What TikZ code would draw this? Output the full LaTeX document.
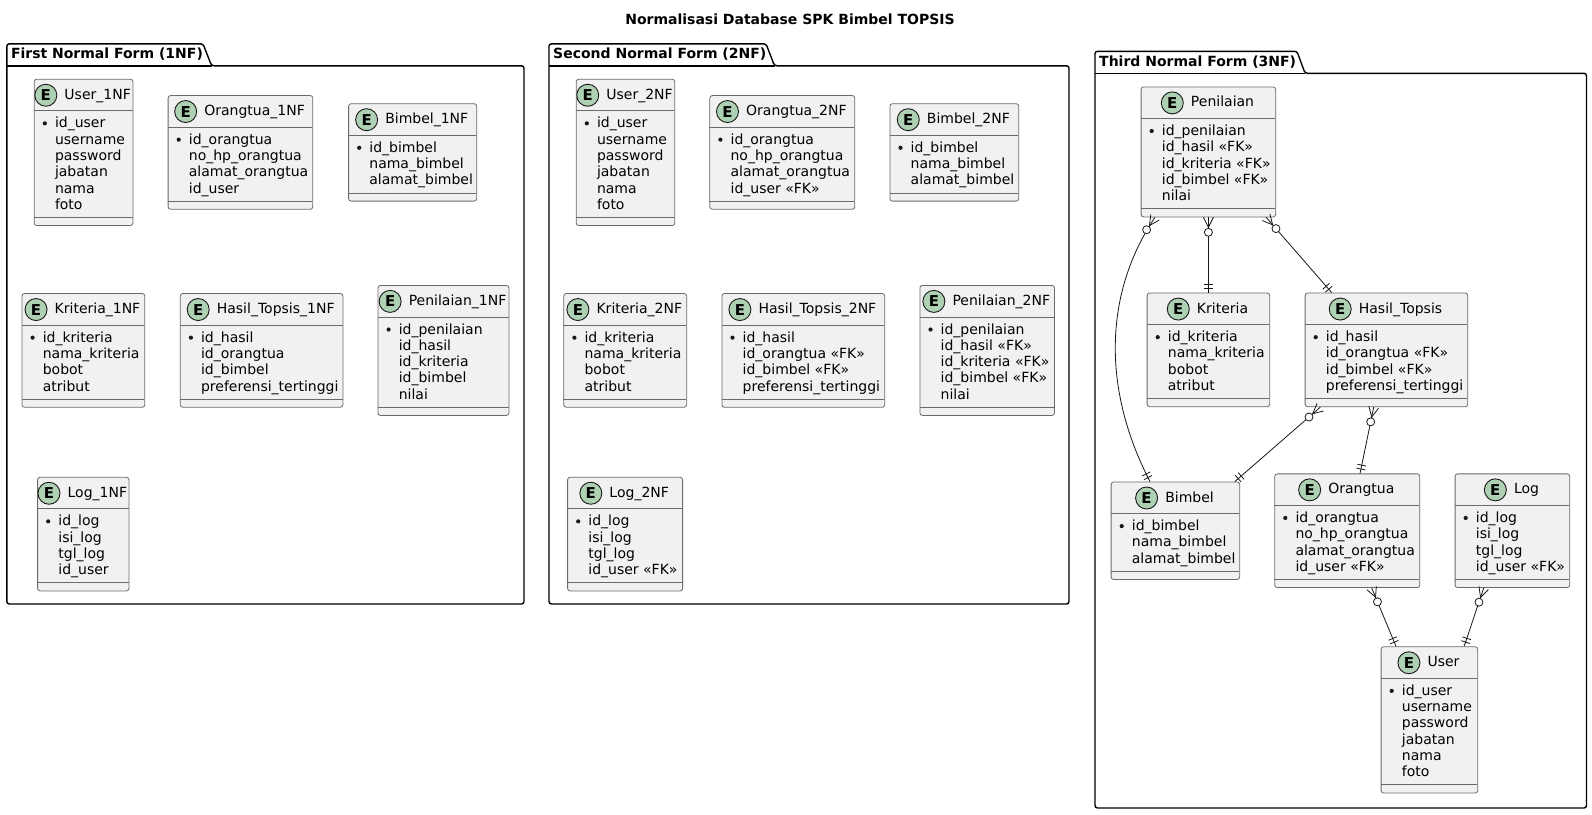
\documentclass[tikz,border=0pt]{standalone}
\usepackage{fontspec}
\setmainfont{DejaVu Sans}
\usetikzlibrary{calc}
\definecolor{entfill}{HTML}{F1F1F1}
\definecolor{entline}{HTML}{6A6A6A}
\definecolor{circfill}{HTML}{ADD1B2}
\definecolor{ink}{HTML}{181818}
\tikzset{
  entbox/.style={draw=entline, line width=0.8pt, fill=entfill, rounded corners=2.5pt, inner sep=0pt, anchor=north west},
  eline/.style={draw=entline, line width=0.8pt},
  etitle/.style={inner sep=0pt, text height=11pt, text depth=3pt, font=\fontsize{14}{16.3}\selectfont, anchor=base},
  ecirc/.style={circle, draw=ink, line width=0.9pt, fill=circfill, minimum size=22pt, inner sep=0pt, font=\fontsize{15}{16}\selectfont\bfseries},
  eattr/.style={inner sep=0pt, anchor=base west, font=\fontsize{14}{16.3}\selectfont},
  conn/.style={draw=ink, line width=0.8pt},
  pkg/.style={draw=black, line width=1.4pt, rounded corners=2.5pt},
  pkgtitle/.style={inner sep=0pt, anchor=base west, font=\fontsize{14}{16}\selectfont\bfseries},
}
% #1 id, #2 left x, #3 center y, #4 width, #5 number of attributes, #6 title, #7 attributes
\newcommand{\erent}[7]{%
  \pgfmathsetmacro{\eH}{48.5+16.3*#5}%
  \pgfmathsetmacro{\eT}{#3-\eH/2}%
  \pgfmathsetmacro{\eD}{\eT+32+16.3*#5+8.7}%
  \node[entbox, minimum width=#4pt, minimum height=\eH pt] (#1) at (#2,\eT) {};
  \draw[eline] (#2,\eT+32) -- ++(#4,0);
  \draw[eline] (#2,\eD) -- ++(#4,0);
  \node[etitle, label={[ecirc, label distance=7pt]left:E}] (#1t) at ({#2+#4/2+14.5},{\eT+20.4}) {#6};
  \fill[ink] ({#2+11},{\eT+44.5}) circle[radius=2.1pt];
  \foreach \a [count=\i from 0] in {#7} {\node[eattr] (#1a\i) at ({#2+21},{\eT+49+16.3*\i}) {\a};}
}
% #1 id, #2 L, #3 tab top, #4 tab right, #5 slant end x, #6 body top, #7 R, #8 B, #9 title
\newcommand{\pkgframe}[9]{%
  \draw[pkg] (#2,#8) -- (#2,#3) -- (#4,#3) -- (#5,#6) -- (#7,#6) -- (#7,#8) -- cycle;
  \draw[pkg] (#2,#6) -- (#5,#6);
  \node[pkgtitle] (#1) at ({#2+4},{#3+15}) {#9};
}
\newcommand{\zmany}[2]{%
  \draw[conn] let \p1=($(#2)-(#1)$), \n1={atan2(\y1,\x1)} in
    ($(#1)+(\n1+90:5pt)$) -- ($(#1)+(\n1:10pt)$) -- ($(#1)+(\n1-90:5pt)$);
  \filldraw[conn, fill=white] let \p1=($(#2)-(#1)$), \n1={atan2(\y1,\x1)} in
    ($(#1)+(\n1:15pt)$) circle[radius=4pt];
}
\newcommand{\oneone}[2]{%
  \draw[conn] let \p1=($(#2)-(#1)$), \n1={atan2(\y1,\x1)} in
    ($(#1)+(\n1:4.5pt)+(\n1+90:4.5pt)$) -- ($(#1)+(\n1:4.5pt)+(\n1-90:4.5pt)$)
    ($(#1)+(\n1:8.5pt)+(\n1+90:4.5pt)$) -- ($(#1)+(\n1:8.5pt)+(\n1-90:4.5pt)$);
}
\begin{document}
\begin{tikzpicture}[x=1pt,y=-1pt]
\useasboundingbox (0,0) rectangle (1592,814);
\fill[white] (0,0) rectangle (1592,814);
\node[inner sep=0pt, anchor=base, font=\fontsize{14}{16}\selectfont\bfseries] (title) at (790,24) {Normalisasi Database SPK Bimbel TOPSIS};

\pkgframe{p1}{6.8}{43.8}{203}{211.6}{65.8}{524}{604}{First Normal Form (1NF)}
\pkgframe{p2}{549}{43.8}{766}{774.5}{65.8}{1069}{604}{Second Normal Form (2NF)}
\pkgframe{p3}{1095}{51.3}{1297}{1305}{73.3}{1586.5}{808}{Third Normal Form (3NF)}

% 1NF
\erent{u1}{33.8}{152}{98.7}{6}{User\_1NF}{id\_user, username, password, jabatan, nama, foto}
\erent{o1}{167.7}{152}{144.7}{4}{Orangtua\_1NF}{id\_orangtua, no\_hp\_orangtua, alamat\_orangtua, id\_user}
\erent{b1}{348.2}{152}{128.1}{3}{Bimbel\_1NF}{id\_bimbel, nama\_bimbel, alamat\_bimbel}
\erent{k1}{21.6}{350}{122.8}{4}{Kriteria\_1NF}{id\_kriteria, nama\_kriteria, bobot, atribut}
\erent{h1}{179.9}{350}{162.6}{4}{Hasil\_Topsis\_1NF}{id\_hasil, id\_orangtua, id\_bimbel, preferensi\_tertinggi}
\erent{n1}{377.6}{350}{130.9}{5}{Penilaian\_1NF}{id\_penilaian, id\_hasil, id\_kriteria, id\_bimbel, nilai}
\erent{l1}{37.2}{533.7}{91.3}{4}{Log\_1NF}{id\_log, isi\_log, tgl\_log, id\_user}

% 2NF
\erent{u2}{575.8}{152}{98.5}{6}{User\_2NF}{id\_user, username, password, jabatan, nama, foto}
\erent{o2}{709.4}{152}{145}{4}{Orangtua\_2NF}{id\_orangtua, no\_hp\_orangtua, alamat\_orangtua, id\_user «FK»}
\erent{b2}{889.5}{152}{128.8}{3}{Bimbel\_2NF}{id\_bimbel, nama\_bimbel, alamat\_bimbel}
\erent{k2}{563.4}{350}{122.9}{4}{Kriteria\_2NF}{id\_kriteria, nama\_kriteria, bobot, atribut}
\erent{h2}{721.5}{350}{162.8}{4}{Hasil\_Topsis\_2NF}{id\_hasil, id\_orangtua «FK», id\_bimbel «FK», preferensi\_tertinggi}
\erent{n2}{919.5}{350}{134.6}{5}{Penilaian\_2NF}{id\_penilaian, id\_hasil «FK», id\_kriteria «FK», id\_bimbel «FK», nilai}
\erent{l2}{567.2}{533.7}{115}{4}{Log\_2NF}{id\_log, isi\_log, tgl\_log, id\_user «FK»}

% 3NF
\erent{pen}{1140.7}{151.5}{134.6}{5}{Penilaian}{id\_penilaian, id\_hasil «FK», id\_kriteria «FK», id\_bimbel «FK», nilai}
\erent{kri}{1146.7}{349.5}{122.6}{4}{Kriteria}{id\_kriteria, nama\_kriteria, bobot, atribut}
\erent{has}{1304.7}{349.5}{162.6}{4}{Hasil\_Topsis}{id\_hasil, id\_orangtua «FK», id\_bimbel «FK», preferensi\_tertinggi}
\erent{bim}{1110.7}{530.3}{128.6}{3}{Bimbel}{id\_bimbel, nama\_bimbel, alamat\_bimbel}
\erent{ort}{1274.3}{530.3}{145}{4}{Orangtua}{id\_orangtua, no\_hp\_orangtua, alamat\_orangtua, id\_user «FK»}
\erent{log}{1454.7}{530.3}{114.6}{4}{Log}{id\_log, isi\_log, tgl\_log, id\_user «FK»}
\erent{usr}{1380.7}{719.5}{96.6}{6}{User}{id\_user, username, password, jabatan, nama, foto}

% connector end points
\coordinate (c1s) at ($(pen.south west)+(14.3,0)$);
\coordinate (c1e) at ($(bim.north west)+(39.3,0)$);
\coordinate (c2s) at (pen.south);
\coordinate (c2e) at (kri.north);
\coordinate (c3s) at ($(pen.south east)+(-10,0)$);
\coordinate (c3e) at ($(has.north west)+(27,0)$);
\coordinate (c4s) at ($(has.south west)+(15.6,0)$);
\coordinate (c4e) at ($(bim.north east)+(-5.3,0)$);
\coordinate (c5s) at ($(has.south west)+(69,0)$);
\coordinate (c5e) at ($(ort.north west)+(85.7,0)$);
\coordinate (c6s) at ($(ort.south west)+(97.4,0)$);
\coordinate (c6e) at ($(usr.north west)+(15.3,0)$);
\coordinate (c7s) at ($(log.south west)+(29,0)$);
\coordinate (c7e) at ($(usr.north east)+(-14,0)$);

\draw[conn] (c1s) .. controls (1106,290) and (1100,385) .. (c1e);
\draw[conn] (c2s) -- (c2e);
\draw[conn] (c3s) -- (c3e);
\draw[conn] (c4s) -- (c4e);
\draw[conn] (c5s) -- (c5e);
\draw[conn] (c6s) -- (c6e);
\draw[conn] (c7s) -- (c7e);

\zmany{c1s}{1106,290}
\oneone{c1e}{1100,385}
\zmany{c2s}{c2e}
\oneone{c2e}{c2s}
\zmany{c3s}{c3e}
\oneone{c3e}{c3s}
\zmany{c4s}{c4e}
\oneone{c4e}{c4s}
\zmany{c5s}{c5e}
\oneone{c5e}{c5s}
\zmany{c6s}{c6e}
\oneone{c6e}{c6s}
\zmany{c7s}{c7e}
\oneone{c7e}{c7s}
\end{tikzpicture}
\end{document}
